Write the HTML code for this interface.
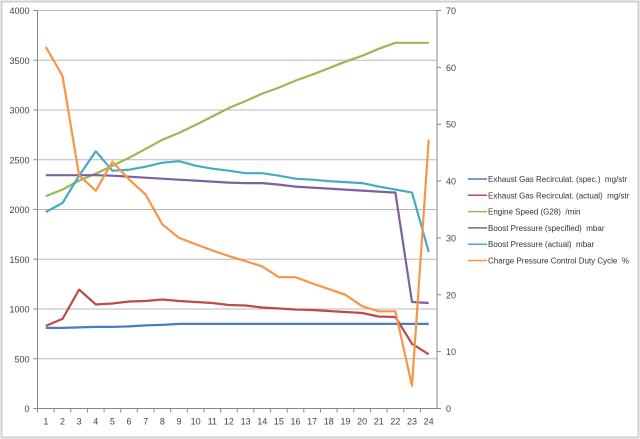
<!DOCTYPE html>
<html><head><meta charset="utf-8"><style>
html,body{margin:0;padding:0;background:#fff;}
svg{display:block;font-family:"Liberation Sans",sans-serif;}
#legend text{white-space:pre;}
</style></head><body>
<svg id="chart" width="640" height="439">
<rect x="1.5" y="1.5" width="637" height="436" fill="#fff" stroke="#d0d0d0" stroke-width="2"/>
<g id="grid"></g><g id="axes"></g><g id="series"></g><g id="legend"></g>
</svg>
<script>
const categories=[1,2,3,4,5,6,7,8,9,10,11,12,13,14,15,16,17,18,19,20,21,22,23,24];
const leftTicks=[0,500,1000,1500,2000,2500,3000,3500,4000];
const rightTicks=[0,10,20,30,40,50,60,70];
const egrSpec=[810,810,815,820,820,825,835,840,850,850,850,850,850,850,850,850,850,850,850,850,850,850,850,850];
const egrActual=[830,900,1195,1045,1055,1075,1080,1095,1080,1070,1060,1040,1035,1015,1005,995,990,980,970,960,925,920,650,545];
const engineSpeed=[2135,2200,2290,2360,2440,2520,2610,2700,2770,2850,2935,3020,3090,3165,3225,3295,3355,3420,3485,3545,3615,3675,3675,3675];
const boostSpec=[2345,2345,2345,2345,2340,2330,2320,2310,2300,2290,2280,2270,2265,2265,2250,2230,2220,2210,2200,2190,2180,2170,1070,1060];
const boostActual=[1975,2065,2340,2585,2390,2400,2430,2470,2485,2440,2410,2390,2365,2365,2340,2310,2300,2285,2275,2265,2230,2200,2170,1575];
const dutyCycle=[63.6,58.5,41,38.3,43.4,40.3,37.6,32.4,30,28.9,27.8,26.8,25.9,25,23.1,23.1,22,21,20,18,17.1,17.1,4,47.3];
const seriesNames=["Exhaust Gas Recirculat. (spec.)  mg/str","Exhaust Gas Recirculat. (actual)  mg/str","Engine Speed (G28)  /min","Boost Pressure (specified)  mbar","Boost Pressure (actual)  mbar","Charge Pressure Control Duty Cycle  %"];
const NS="http://www.w3.org/2000/svg";
const L=37.5,R=437,T=10.5,B=408.5;
const yL=v=>B-(v/4000)*(B-T);
const yR=v=>B-(v/70)*(B-T);
const cw=(R-L)/categories.length;
const xC=i=>L+cw*(i+0.5);
function mk(tag,attrs,parent){const e=document.createElementNS(NS,tag);for(const k in attrs)e.setAttribute(k,attrs[k]);parent.appendChild(e);return e;}
const grid=document.getElementById('grid'),axes=document.getElementById('axes'),ser=document.getElementById('series'),leg=document.getElementById('legend');
leftTicks.forEach(t=>{const y=yL(t);
 if(t>0){const g=mk('line',{x1:L,x2:R,y1:y,y2:y,stroke:'#b8b8b8','stroke-width':1},grid);
 
 }
 mk('line',{x1:L-4,x2:L,y1:y,y2:y,stroke:'#888'},axes);
 const tx=mk('text',{x:L-8,y:y+3.5,'text-anchor':'end','font-size':9,fill:'#444'},axes);tx.textContent=t;
 
 
});
rightTicks.forEach(t=>{const y=yR(t);
 mk('line',{x1:R,x2:R+4,y1:y,y2:y,stroke:'#888'},axes);
 const tx=mk('text',{x:R+9,y:y+3.5,'text-anchor':'start','font-size':9,fill:'#444'},axes);tx.textContent=t;
 
 
});
mk('line',{x1:L,x2:L,y1:T,y2:B,stroke:'#888'},axes);
mk('line',{x1:R,x2:R,y1:T,y2:B,stroke:'#888'},axes);
mk('line',{x1:L,x2:R,y1:B,y2:B,stroke:'#888'},axes);
categories.forEach((c,i)=>{
 mk('line',{x1:L+cw*i,x2:L+cw*i,y1:B,y2:B+4,stroke:'#888'},axes);
 const tx=mk('text',{x:xC(i),y:B+16,'text-anchor':'middle','font-size':9,fill:'#444'},axes);tx.textContent=c;
 
 
});
const defs=[[egrSpec,'#4a7ebb',yL,'egr-spec-line'],[egrActual,'#be4b48',yL,'egr-actual-line'],[engineSpeed,'#98b954',yL,'engine-speed-line'],[boostSpec,'#7d60a0',yL,'boost-spec-line'],[boostActual,'#46aac5',yL,'boost-actual-line'],[dutyCycle,'#f79646',yR,'duty-cycle-line']];
defs.forEach((d,k)=>{
 const pts=d[0].map((v,i)=>xC(i).toFixed(1)+','+d[2](v).toFixed(1)).join(' ');
 const p=mk('polyline',{points:pts,fill:'none',stroke:d[1],'stroke-width':2.2,'stroke-linejoin':'round'},ser);
 
 
 const y=179+k*16.3;
 const g=mk('g',{},leg);
 
 
 mk('line',{x1:468,x2:487,y1:y,y2:y,stroke:d[1],'stroke-width':1.5},g);
 const tx=mk('text',{x:488,y:y+3,'font-size':8,fill:'#333'},g);tx.textContent=seriesNames[k];
});
</script>
</body></html>
